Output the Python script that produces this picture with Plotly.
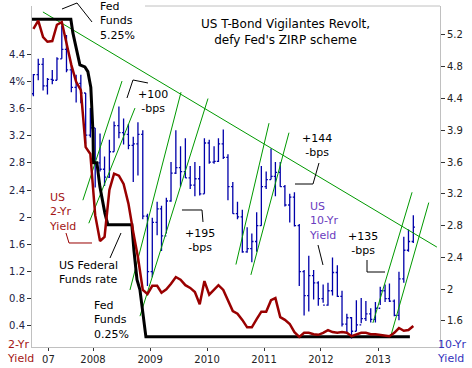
import plotly.graph_objects as go
import pandas as pd

# ---------------- data ----------------
months = pd.date_range("2006-12-01", "2013-08-01", freq="MS") + pd.Timedelta(days=14)

# US 10-yr yield, monthly OHLC (right axis)
t10_open = [4.46, 4.70, 4.83, 4.56, 4.64, 4.63, 4.90, 5.02, 4.76, 4.54, 4.59, 4.47, 3.94,
            4.03, 3.59, 3.51, 3.41, 3.73, 4.06, 3.97, 3.95, 3.81, 3.83, 3.95, 2.92,
            2.22, 2.84, 3.01, 2.67, 3.11, 3.46, 3.53, 3.48, 3.40, 3.31, 3.39, 3.20,
            3.84, 3.60, 3.61, 3.83, 3.66, 3.29, 2.95, 2.91, 2.47, 2.51, 2.60, 2.80,
            3.29, 3.38, 3.42, 3.47, 3.29, 3.06, 3.16, 2.80, 2.22, 1.92, 2.17, 2.08,
            1.88, 1.80, 1.98, 2.21, 1.91, 1.56, 1.64, 1.47, 1.55, 1.63, 1.69, 1.62,
            1.76, 1.98, 1.88, 1.85, 1.67, 2.13, 2.49, 2.60]
t10_high = [4.71, 4.90, 4.91, 4.66, 4.76, 4.92, 5.32, 5.20, 4.82, 4.70, 4.70, 4.47, 4.28,
            4.03, 3.96, 3.67, 3.88, 4.11, 4.30, 4.15, 4.08, 3.92, 4.10, 4.00, 2.95,
            2.90, 3.10, 3.05, 3.15, 3.60, 4.00, 3.80, 3.90, 3.55, 3.60, 3.55, 3.90,
            3.88, 3.80, 3.90, 4.01, 3.70, 3.35, 3.10, 3.00, 2.78, 2.70, 2.97, 3.55,
            3.48, 3.77, 3.60, 3.60, 3.31, 3.20, 3.22, 2.82, 2.24, 2.42, 2.24, 2.10,
            2.06, 2.08, 2.40, 2.30, 1.98, 1.69, 1.65, 1.86, 1.89, 1.85, 1.76, 1.84,
            2.03, 2.06, 2.07, 1.87, 2.22, 2.66, 2.75, 2.93]
t10_low = [4.43, 4.63, 4.50, 4.45, 4.58, 4.63, 4.90, 4.73, 4.48, 4.35, 4.34, 3.83, 3.91,
           3.28, 3.48, 3.30, 3.40, 3.73, 3.90, 3.82, 3.76, 3.35, 3.43, 2.88, 2.04,
           2.15, 2.68, 2.48, 2.70, 3.10, 3.45, 3.29, 3.40, 3.26, 3.17, 3.18, 3.20,
           3.58, 3.58, 3.60, 3.64, 3.12, 2.95, 2.88, 2.46, 2.46, 2.34, 2.47, 2.80,
           3.26, 3.38, 3.17, 3.29, 3.04, 2.84, 2.79, 2.04, 1.67, 1.72, 1.87, 1.79,
           1.83, 1.79, 1.92, 1.90, 1.53, 1.44, 1.38, 1.47, 1.57, 1.60, 1.58, 1.58,
           1.80, 1.84, 1.84, 1.66, 1.61, 2.08, 2.47, 2.58]
t10_close = [4.70, 4.83, 4.56, 4.64, 4.63, 4.90, 5.02, 4.76, 4.54, 4.59, 4.47, 3.94, 4.03,
             3.59, 3.51, 3.41, 3.73, 4.06, 3.97, 3.95, 3.81, 3.83, 3.95, 2.92, 2.22,
             2.84, 3.01, 2.67, 3.11, 3.46, 3.53, 3.48, 3.40, 3.31, 3.39, 3.20, 3.84,
             3.60, 3.61, 3.83, 3.66, 3.29, 2.95, 2.91, 2.47, 2.51, 2.60, 2.80, 3.29,
             3.38, 3.42, 3.47, 3.29, 3.06, 3.16, 2.80, 2.22, 1.92, 2.17, 2.08, 1.88,
             1.80, 1.98, 2.21, 1.91, 1.56, 1.64, 1.47, 1.55, 1.63, 1.69, 1.62, 1.76,
             1.98, 1.88, 1.85, 1.67, 2.13, 2.49, 2.60, 2.78]

# US 2-yr yield, monthly (left axis)
t2_yield = [4.77, 4.89, 4.65, 4.58, 4.59, 4.83, 4.87, 4.58, 4.24, 3.99,
            3.87, 3.03, 2.93, 2.03, 1.65, 1.71, 2.40, 2.64, 2.61, 2.49,
            2.20, 1.78, 1.41, 0.93, 0.87, 0.99, 0.99, 0.89, 0.94, 1.02,
            1.12, 1.08, 1.00, 0.96, 0.90, 0.72, 1.06, 0.86, 0.94, 1.00,
            0.93, 0.77, 0.62, 0.58, 0.49, 0.38, 0.38, 0.50, 0.61, 0.61,
            0.78, 0.81, 0.53, 0.49, 0.43, 0.31, 0.24, 0.30, 0.30, 0.28,
            0.27, 0.30, 0.34, 0.31, 0.30, 0.31, 0.30, 0.25, 0.28, 0.30,
            0.30, 0.28, 0.28, 0.27, 0.25, 0.25, 0.30, 0.37, 0.33, 0.34, 0.40]

# US Federal Funds rate (left axis)
ff_dates = ["2006-12-06", "2007-08-12", "2007-08-25", "2007-09-19", "2007-10-09",
            "2007-11-10", "2007-11-29", "2007-12-18", "2007-12-24", "2008-01-01",
            "2008-01-04", "2008-01-26", "2008-02-14", "2008-03-17", "2008-04-05",
            "2008-09-06", "2008-09-19", "2008-10-09", "2008-10-28", "2008-11-16",
            "2008-12-05", "2013-07-24"]
ff_rate = [4.91, 4.91, 4.71, 4.42, 4.24, 4.21, 4.14, 3.91, 3.58, 3.24, 2.80,
           2.80, 2.45, 2.06, 1.89, 1.89, 1.52, 1.08, 0.93, 0.59, 0.24, 0.24]

# green trend / channel lines on 10-yr yield: (start date, start, end date, end)
trend_lines = [
    ("2007-02-14", 5.49, "2014-01-13", 2.53),
    ("2007-10-28", 3.12, "2008-07-05", 4.62),
    ("2007-12-05", 2.83, "2008-09-26", 4.28),
    ("2008-08-25", 1.99, "2009-07-18", 4.48),
    ("2008-10-28", 1.66, "2010-01-07", 4.40),
    ("2010-07-05", 2.31, "2011-02-02", 4.09),
    ("2010-10-09", 2.18, "2011-06-10", 3.97),
    ("2012-11-29", 1.575, "2013-08-07", 3.22),
    ("2013-03-25", 1.42, "2013-11-22", 3.09),
]

x_tick_dates = ["2007-03-21", "2008-01-01", "2009-01-01", "2010-01-01",
                "2011-01-01", "2012-01-01", "2013-01-01"]
x_tick_text = ["07", "2008", "2009", "2010", "2011", "2012", "2013"]

left_tickvals = [0.4, 0.8, 1.2, 1.6, 2.0, 2.4, 2.8, 3.2, 3.6, 4.0, 4.4]
left_ticktext = ["0.4", "0.8", "1.2", "1.6", "2", "2.4", "2.8", "3.2", "3.6", "4%", "4.4"]
right_tickvals = [1.6, 2.0, 2.4, 2.8, 3.2, 3.6, 4.0, 4.4, 4.8, 5.2]
right_ticktext = ["1.6", "2", "2.4", "2.8", "3.2", "3.6", "3.9", "4.4", "4.8", "5.2"]

# ---------------- styling ----------------
W, H = 472, 368
L, R, T, B = 32, 440, 6, 347
FONT = "DejaVu Sans"
BLUE = "#0000aa"
RED = "#990000"
GREEN = "#009900"


def px(x):
    return (x - L) / (R - L)


def py(y):
    return (B - y) / (B - T)


fig = go.Figure()

fig.add_trace(go.Ohlc(
    x=months, open=t10_open, high=t10_high, low=t10_low, close=t10_close,
    increasing=dict(line=dict(color=BLUE, width=1.3)),
    decreasing=dict(line=dict(color=BLUE, width=1.3)),
    tickwidth=0.38, yaxis="y", xaxis="x", hoverinfo="skip",
))

gx, gy = [], []
for d0, v0, d1, v1 in trend_lines:
    gx += [d0, d1, None]
    gy += [v0, v1, None]
fig.add_trace(go.Scatter(x=gx, y=gy, mode="lines", line=dict(color=GREEN, width=1),
                         yaxis="y", hoverinfo="skip"))

fig.add_trace(go.Scatter(x=ff_dates, y=ff_rate, mode="lines",
                         line=dict(color="black", width=3), yaxis="y2", hoverinfo="skip"))
fig.add_trace(go.Scatter(x=months, y=t2_yield, mode="lines",
                         line=dict(color=RED, width=2.5), yaxis="y2", hoverinfo="skip"))

annotations = []


def note(text, x, y, color="black", size=11, xanchor="left", align="left"):
    annotations.append(dict(text=text, x=px(x), y=py(y), xref="paper", yref="paper",
                            xanchor=xanchor, yanchor="middle", align=align,
                            showarrow=False, font=dict(family=FONT, size=size, color=color)))


note("US T-Bond Vigilantes Revolt,<br>defy Fed's ZIRP scheme", 285, 31.5, size=12,
     xanchor="center", align="center")
note("Fed<br>Funds<br>5.25%", 98, 21)
note("+100<br>-bps", 153, 101.5, xanchor="center", align="center")
note("+195<br>-bps", 200, 240.5, xanchor="center", align="center")
note("+144<br>-bps", 317, 145.5, xanchor="center", align="center")
note("+135<br>-bps", 362.5, 243.5, xanchor="center", align="center")
note("US<br>10-Yr<br>Yield", 307, 221, color="#6a3cc0")
note("US<br>2-Yr<br>Yield", 47, 212, color="#a31515")
note("US Federal<br>Funds rate", 57, 272.5)
note("Fed<br>Funds<br>0.25%", 92, 320)
note("2-Yr<br>Yield", 5, 351.5, color="#a31515")
note("10-Yr<br>Yield", 435, 351.5, color="#3333bb")

connectors = [
    ([(62, 9), (77, 3), (92, 22)], "black"),
    ([(127, 98), (133, 80), (148, 83)], "black"),
    ([(182, 210), (202, 210), (203, 222)], "black"),
    ([(295, 184), (313, 184), (319, 163)], "black"),
    ([(367, 260), (367, 272), (385, 272)], "black"),
    ([(318, 245), (323, 265)], "black"),
    ([(66, 233), (69, 243), (92, 243)], RED),
    ([(110, 258), (121, 233)], "black"),
]
shapes = []
for pts, col in connectors:
    path = "M " + " L ".join(f"{px(a):.4f},{py(b):.4f}" for a, b in pts)
    shapes.append(dict(type="path", path=path, xref="paper", yref="paper",
                       line=dict(color=col, width=1)))
# partial top frame
shapes.append(dict(type="line", xref="paper", yref="paper", x0=px(145), x1=1, y0=1, y1=1,
                   line=dict(color="#c0c0c0", width=1)))

axis_common = dict(showgrid=False, zeroline=False, showline=True, linecolor="#c0c0c0",
                   ticks="outside", tickcolor="#333333", automargin=False)

fig.update_layout(
    width=W, height=H,
    margin=dict(l=L, r=W - R, t=T, b=H - B, pad=0, autoexpand=False),
    paper_bgcolor="white", plot_bgcolor="white", showlegend=False,
    font=dict(family=FONT, size=10, color="#333333"),
    annotations=annotations, shapes=shapes,
    xaxis=dict(type="date", range=["2006-12-06", "2014-02-02"],
               tickvals=x_tick_dates, ticktext=x_tick_text, ticklen=3,
               rangeslider=dict(visible=False), tickfont=dict(size=10, color="#222222"),
               **axis_common),
    yaxis=dict(side="right", range=[1.272, 5.565],
               tickvals=right_tickvals, ticktext=right_ticktext, ticklen=4,
               tickfont=dict(size=10, color="#222222"), **axis_common),
    yaxis2=dict(side="left", overlaying="y", range=[0.091, 5.106],
                tickvals=left_tickvals, ticktext=left_ticktext, ticklen=4,
                tickfont=dict(size=10, color="#222244"), **axis_common),
)

fig.write_html("out.html", config={"displayModeBar": False},
               post_script="document.body.style.margin='0';document.body.style.padding='0';")
